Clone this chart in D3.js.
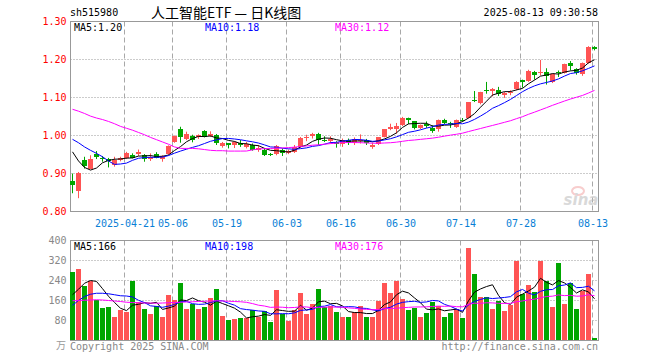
<!DOCTYPE html>
<html><head><meta charset="utf-8">
<script src="https://cdn.jsdelivr.net/npm/d3@7/dist/d3.min.js"></script>
<style>body{margin:0;background:#fff}svg{display:block}</style>
</head><body>
<svg id="chart" width="660" height="360"></svg>
<script>
// ---------- data ----------
const dates = ["04-08","04-09","04-10","04-11","04-14","04-15","04-16","04-17","04-18","04-21",
"04-22","04-23","04-24","04-25","04-28","04-29","04-30","05-06","05-07","05-08",
"05-09","05-12","05-13","05-14","05-15","05-16","05-19","05-20","05-21","05-22",
"05-23","05-26","05-27","05-28","05-29","05-30","06-03","06-04","06-05","06-06",
"06-09","06-10","06-11","06-12","06-13","06-16","06-17","06-18","06-19","06-20",
"06-23","06-24","06-25","06-26","06-27","06-30","07-01","07-02","07-03","07-04",
"07-07","07-08","07-09","07-10","07-11","07-14","07-15","07-16","07-17","07-18",
"07-21","07-22","07-23","07-24","07-25","07-28","07-29","07-30","07-31","08-01",
"08-04","08-05","08-06","08-07","08-08","08-11","08-12","08-13"];

const open = [0.880,0.855,0.935,0.912,0.951,0.942,0.937,0.922,0.936,0.940,
0.950,0.951,0.950,0.937,0.951,0.937,0.951,0.982,1.018,0.990,
1.000,0.996,1.011,1.000,1.002,0.972,0.979,0.975,0.981,0.970,
0.975,0.963,0.961,0.951,0.951,0.963,0.953,0.957,0.970,0.994,
0.998,1.005,0.989,0.986,0.983,0.977,0.989,0.981,0.986,0.989,
0.970,0.977,0.996,1.017,1.018,1.027,1.047,1.037,1.020,1.031,
1.021,1.016,1.040,1.033,1.023,1.042,1.047,1.094,1.086,1.121,
1.117,1.119,1.107,1.114,1.123,1.147,1.143,1.167,1.165,1.167,
1.141,1.167,1.165,1.191,1.176,1.161,1.191,1.234];
const high = [0.900,0.904,0.944,0.948,0.959,0.946,0.941,0.944,0.944,0.957,
0.953,0.963,0.951,0.953,0.956,0.948,0.974,1.000,1.023,1.010,
1.002,1.003,1.014,1.011,1.004,0.983,0.979,0.985,0.988,0.983,
0.979,0.975,0.966,0.954,0.975,0.966,0.963,0.975,0.996,1.002,
1.007,1.007,0.998,0.998,0.985,0.992,0.992,0.995,1.003,0.991,
0.981,0.996,1.017,1.031,1.033,1.049,1.047,1.037,1.029,1.037,
1.027,1.042,1.044,1.036,1.042,1.046,1.087,1.117,1.115,1.141,
1.125,1.128,1.115,1.119,1.143,1.147,1.173,1.170,1.199,1.177,
1.163,1.171,1.189,1.196,1.177,1.192,1.235,1.235];
const low = [0.848,0.835,0.913,0.911,0.938,0.931,0.916,0.918,0.932,0.938,
0.940,0.946,0.931,0.933,0.940,0.931,0.948,0.981,0.981,0.988,
0.982,0.991,0.995,0.996,0.975,0.968,0.966,0.967,0.970,0.966,
0.960,0.957,0.946,0.946,0.948,0.946,0.951,0.954,0.968,0.985,
0.992,0.975,0.983,0.979,0.968,0.970,0.975,0.975,0.979,0.975,
0.965,0.975,0.995,1.014,1.005,1.025,1.030,1.016,1.017,1.020,
1.007,1.010,1.030,1.020,1.020,1.036,1.045,1.088,1.082,1.110,
1.103,1.104,1.099,1.106,1.119,1.126,1.141,1.147,1.158,1.134,
1.138,1.154,1.163,1.171,1.160,1.157,1.189,1.224];
const close = [0.870,0.902,0.919,0.937,0.944,0.939,0.933,0.935,0.940,0.955,
0.942,0.957,0.938,0.944,0.942,0.946,0.973,0.998,0.995,1.005,
0.989,1.001,0.996,1.003,0.979,0.981,0.976,0.983,0.975,0.977,
0.963,0.968,0.948,0.949,0.972,0.954,0.960,0.970,0.994,0.996,
1.003,0.988,0.986,0.991,0.977,0.988,0.981,0.992,0.989,0.979,
0.976,0.995,1.016,1.023,1.025,1.047,1.042,1.020,1.027,1.024,
1.012,1.040,1.033,1.030,1.040,1.040,1.087,1.091,1.114,1.119,
1.122,1.110,1.112,1.115,1.141,1.142,1.171,1.160,1.167,1.156,
1.161,1.164,1.187,1.182,1.164,1.191,1.233,1.227];
// volume, 万手
const volume = [275,287,219,237,163,131,135,95,121,116,
239,153,127,107,139,95,183,163,231,127,
147,127,135,171,207,99,83,87,91,91,
123,95,119,75,203,107,79,123,191,107,
147,207,135,139,115,95,95,115,139,95,
95,159,231,191,239,167,123,131,95,111,
155,139,95,111,127,91,371,267,175,175,
127,159,119,143,319,187,223,195,320,239,
135,310,147,230,128,198,268,11];

// moving-average values before enough in-window data exists
const ma5Head  = [0.957,0.933,0.916,0.909];
const ma10Head = [0.990,0.981,0.970,0.961,0.953,0.944,0.933,0.924,0.925];
const ma30Head = [1.069,1.064,1.058,1.051,1.046,1.042,1.037,1.031,1.024,1.019,
1.014,1.008,1.002,0.995,0.989,0.983,0.977,0.970,0.966,0.966,
0.966,0.965,0.963,0.961,0.960,0.960,0.959,0.959,0.959];
const vma5Head  = [183,205,229,240];
const vma10Head = [141,160,176,185,189,189,187,183,179];
const vma30Head = [159,160,161,162,163,162,160,158,156,153,
152,151,150,150,149,150,151,152,153,154,
155,156,157,158,159,158,157,156,155];

const priceTicks = [0.80,0.90,1.00,1.10,1.20,1.30];
const volTicks = [80,160,240,320,400];
const tickDates = ["04-21","05-06","05-19","06-03","06-16","06-30","07-14","07-28","08-13"];
const tickLabels = ["2025-04-21","05-06","05-19","06-03","06-16","06-30","07-14","07-28","08-13"];
const maNames = ["MA5","MA10","MA30"];
const priceMaLatest = [1.20,1.18,1.12];
const volMaLatest = [166,198,176];

// ---------- chart ----------
const svg = d3.select("#chart");
const MONO = "'DejaVu Sans Mono', monospace";
const UP = "#ff5454", DOWN = "#00a600";
const maColors = ["#000000","#0000ff","#ff00ff"];
const n = dates.length;

const L = 70.5, R = 598.5, PT = 21.5, PB = 211.5, VT = 240.5, VB = 340.5;
const x = d3.scaleLinear().domain([0, n-1]).range([72.5, 594.5]);
const xTick = d3.scaleLinear().domain([0, n-1]).range([70.5, 592.5]);
const yP = d3.scaleLinear().domain([0.8, 1.3]).range([PB, PT]);
const yV = d3.scaleLinear().domain([0, 400]).range([VB, VT]);

function movingAvg(arr, k, head){
  return arr.map((_, i) => i < k-1 ? head[i] : d3.mean(arr.slice(i-k+1, i+1)));
}
const priceMA = [movingAvg(close,5,ma5Head), movingAvg(close,10,ma10Head), movingAvg(close,30,ma30Head)];
const volMA = [movingAvg(volume,5,vma5Head), movingAvg(volume,10,vma10Head), movingAvg(volume,30,vma30Head)];
const tickIdx = tickDates.map(d => dates.indexOf(d));

// header
svg.append("text").attr("x",70).attr("y",16).attr("font-family",MONO).attr("font-size",10)
  .attr("fill","#000").text("sh515980");
svg.append("text").attr("x",151).attr("y",18).attr("font-family","'Noto Sans CJK SC', sans-serif")
  .attr("font-size",14).attr("fill","#000").text("人工智能ETF — 日K线图");
svg.append("text").attr("x",598).attr("y",16).attr("text-anchor","end").attr("font-family",MONO)
  .attr("font-size",10).attr("fill","#000").text("2025-08-13 09:30:58");

// grids
function hGrid(vals, scale){
  svg.append("g").selectAll("line").data(vals).join("line")
    .attr("x1",L).attr("x2",R).attr("y1",d=>scale(d)).attr("y2",d=>scale(d))
    .attr("stroke","#999").attr("stroke-dasharray","1,2");
}
hGrid([0.90,1.00,1.10,1.20], yP);
hGrid([80,160,240,320], yV);
function vGrid(top, bottom){
  svg.append("g").selectAll("line").data(tickIdx).join("line")
    .attr("x1",d=>xTick(d)).attr("x2",d=>xTick(d)).attr("y1",top).attr("y2",bottom)
    .attr("stroke","#a8a8a8").attr("stroke-dasharray","5,3");
}
vGrid(PT, PB); vGrid(VT, VB);

// watermark
const wm = svg.append("g").attr("opacity",0.55);
wm.append("ellipse").attr("cx",578).attr("cy",191).attr("rx",6).attr("ry",4)
  .attr("fill","none").attr("stroke","#f3a5a5").attr("stroke-width",2);
wm.append("text").attr("x",581).attr("y",205).attr("text-anchor","middle")
  .attr("font-family","'DejaVu Sans', sans-serif").attr("font-style","italic").attr("font-weight","bold")
  .attr("font-size",15).attr("fill","#bbb").text("sina");

// frames
svg.append("rect").attr("x",L).attr("y",PT).attr("width",R-L).attr("height",PB-PT)
  .attr("fill","none").attr("stroke","#999");
svg.append("rect").attr("x",L).attr("y",VT).attr("width",R-L).attr("height",VB-VT)
  .attr("fill","none").attr("stroke","#999");

// axes
const pAxis = svg.append("g").attr("transform",`translate(${L},0)`)
  .call(d3.axisLeft(yP).tickValues(priceTicks).tickFormat(d3.format(".2f")).tickSize(0).tickPadding(4));
pAxis.select(".domain").remove();
pAxis.selectAll("text").attr("font-family",MONO).attr("font-size",10).attr("fill","#ff0000");

const vAxis = svg.append("g").attr("transform",`translate(${L},0)`)
  .call(d3.axisLeft(yV).tickValues(volTicks).tickFormat(d3.format("d")).tickSize(0).tickPadding(4));
vAxis.select(".domain").remove();
vAxis.selectAll("text").attr("font-family",MONO).attr("font-size",10).attr("fill","#888");
svg.append("text").attr("x",66).attr("y",349).attr("text-anchor","end")
  .attr("font-family","'Noto Sans CJK SC', sans-serif").attr("font-size",10).attr("fill","#999").text("万");

const xAxis = svg.append("g").attr("transform",`translate(0,${PB})`)
  .call(d3.axisBottom(xTick).tickValues(tickIdx).tickFormat((d,i)=>tickLabels[i]).tickSize(0).tickPadding(8));
xAxis.select(".domain").remove();
xAxis.selectAll("text").attr("font-family",MONO).attr("font-size",10).attr("fill","#0a7fd6");

// candles
const idx = d3.range(n);
const colorOf = i => close[i] >= open[i] ? UP : DOWN;
const cg = svg.append("g");
cg.selectAll("line").data(idx).join("line")
  .attr("x1",i=>x(i)).attr("x2",i=>x(i))
  .attr("y1",i=>yP(high[i])).attr("y2",i=>yP(low[i]))
  .attr("stroke",colorOf);
cg.selectAll("rect").data(idx).join("rect")
  .attr("x",i=>x(i)-2.5).attr("width",5)
  .attr("y",i=>Math.round(yP(Math.max(open[i],close[i]))))
  .attr("height",i=>Math.max(1, Math.round(yP(Math.min(open[i],close[i]))) - Math.round(yP(Math.max(open[i],close[i])))))
  .attr("fill",colorOf);

// volume bars
svg.append("g").selectAll("rect").data(idx).join("rect")
  .attr("x",i=>x(i)-2.5).attr("width",5)
  .attr("y",i=>Math.round(yV(volume[i])))
  .attr("height",i=>VB - 0.5 - Math.round(yV(volume[i])))
  .attr("fill",colorOf);

// MA lines
const lineP = d3.line().x((d,i)=>x(i)).y(d=>yP(d));
const lineV = d3.line().x((d,i)=>x(i)).y(d=>yV(d));
priceMA.forEach((s,k)=>svg.append("path").attr("d",lineP(s)).attr("fill","none")
  .attr("stroke",maColors[k]).attr("stroke-width",1));
volMA.forEach((s,k)=>svg.append("path").attr("d",lineV(s)).attr("fill","none")
  .attr("stroke",maColors[k]).attr("stroke-width",1));

// MA legends
const legX = [74,205,335];
maNames.forEach((m,k)=>{
  svg.append("text").attr("x",legX[k]).attr("y",31).attr("font-family",MONO).attr("font-size",10)
    .attr("fill",maColors[k]).text(`${m}:${priceMaLatest[k].toFixed(2)}`);
  svg.append("text").attr("x",legX[k]).attr("y",250).attr("font-family",MONO).attr("font-size",10)
    .attr("fill",maColors[k]).text(`${m}:${volMaLatest[k]}`);
});

// footer
svg.append("text").attr("x",70).attr("y",350).attr("font-family",MONO).attr("font-size",10)
  .attr("fill","#888").text("Copyright 2025 SINA.COM");
svg.append("text").attr("x",598).attr("y",350).attr("text-anchor","end").attr("font-family",MONO)
  .attr("font-size",10).attr("fill","#888").text("http://finance.sina.com.cn");
</script>
</body></html>
